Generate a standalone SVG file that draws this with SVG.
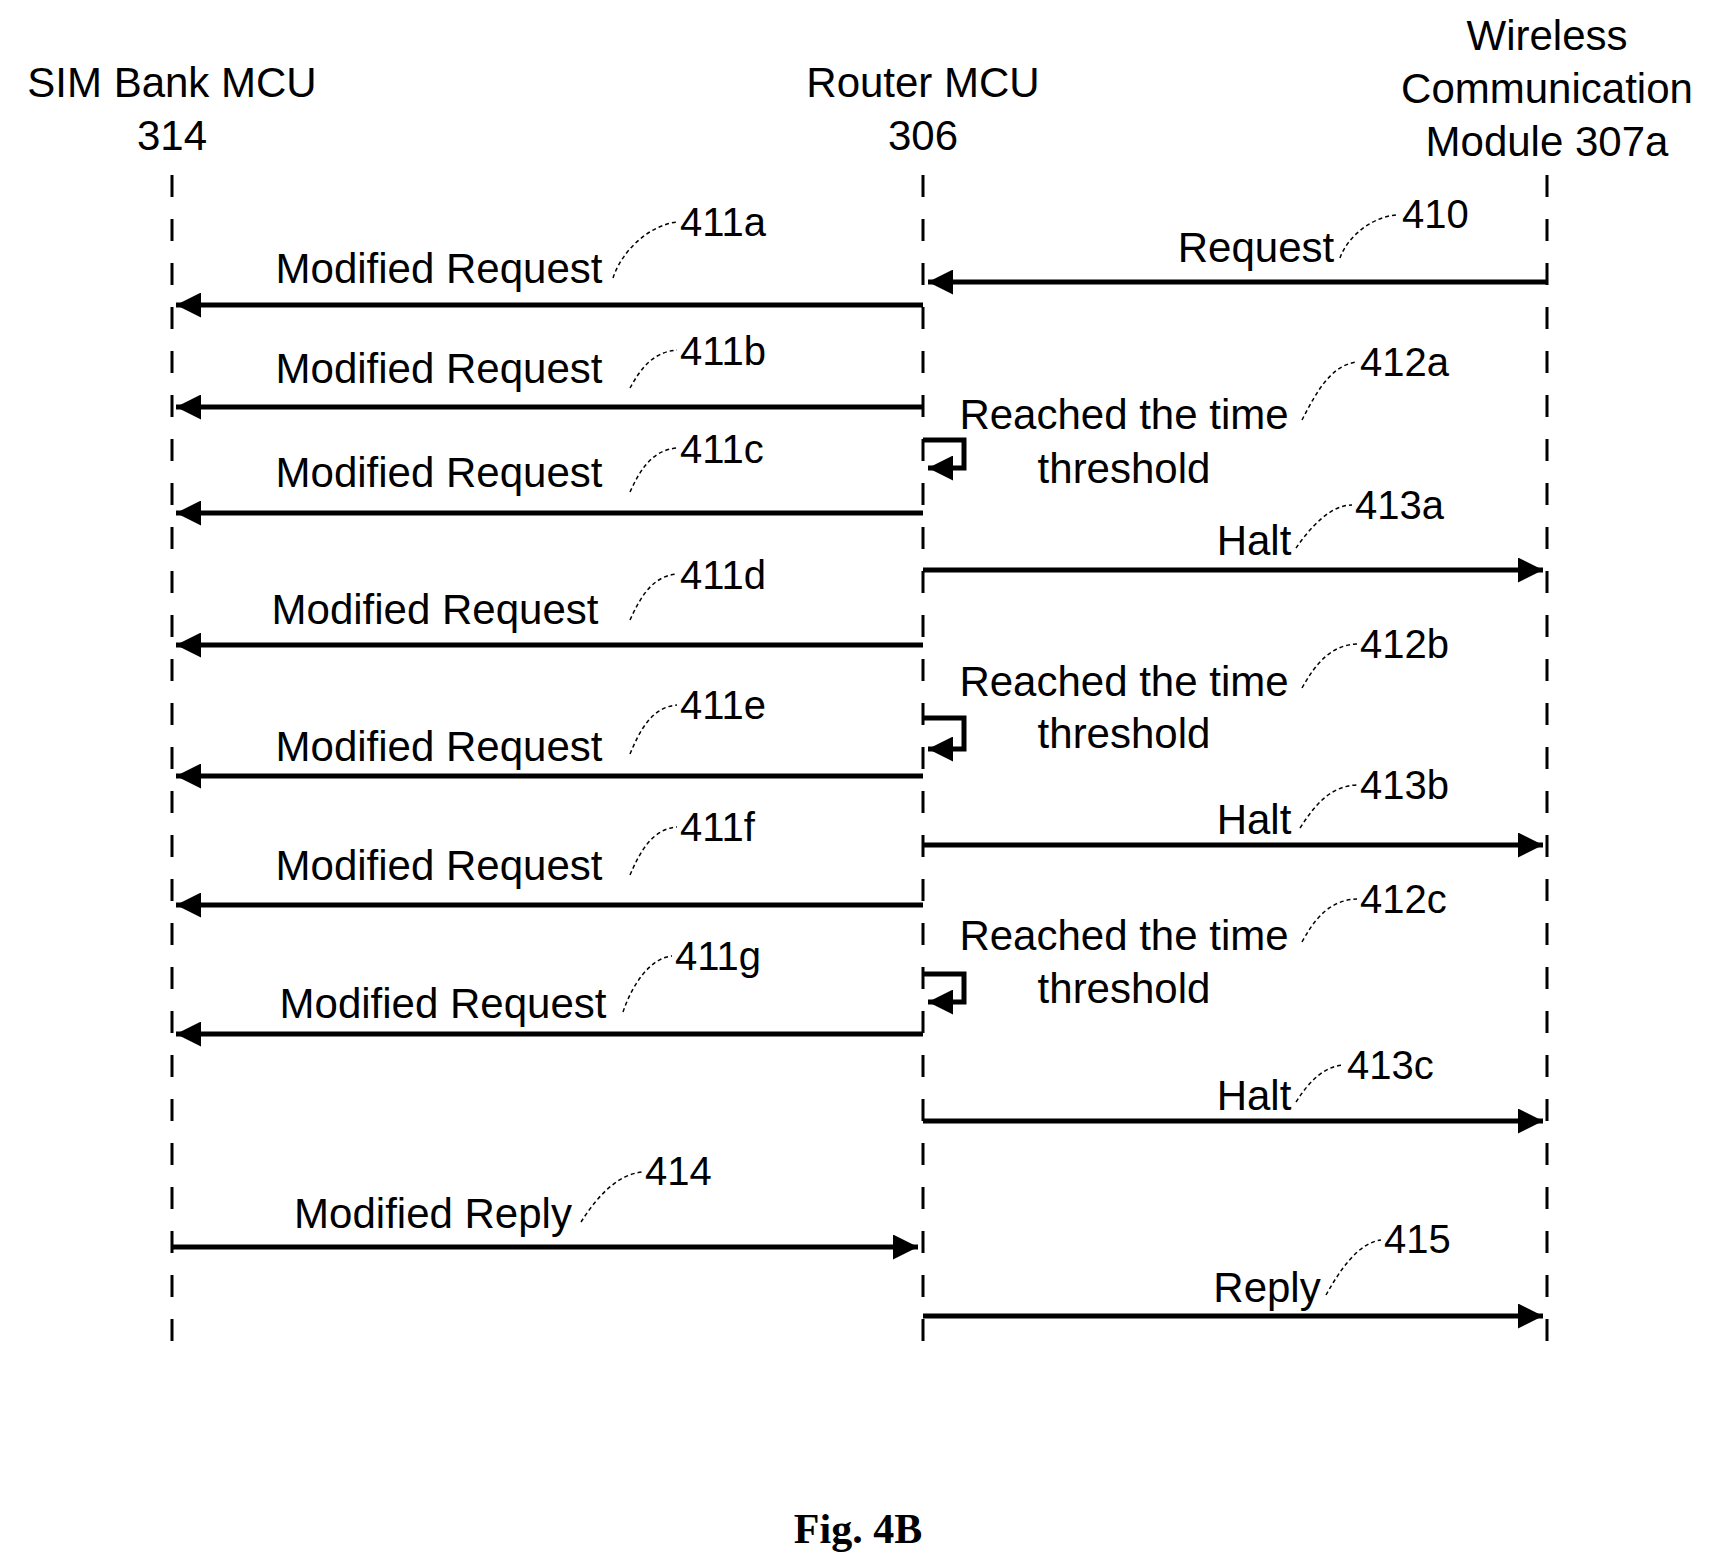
<svg xmlns="http://www.w3.org/2000/svg" width="1711" height="1567" viewBox="0 0 1711 1567">
<style>
text{font-family:"Liberation Sans",Arial,sans-serif;font-size:42px;fill:#000}
.n{font-size:40px}
.c{text-anchor:middle}
.life{stroke:#000;stroke-width:3;stroke-dasharray:22 22;fill:none}
.msg{stroke:#000;stroke-width:5;fill:none}
.lead{stroke:#000;stroke-width:1.5;stroke-dasharray:4 3;fill:none}
</style>
<defs>
<marker id="ah" viewBox="0 0 10 10" refX="10" refY="5" markerWidth="7" markerHeight="5" markerUnits="strokeWidth" orient="auto"><path d="M0,0L10,5L0,10z" fill="#000"/></marker>
</defs>
<g id="sim"><text class="c" x="172" y="97">SIM Bank MCU</text><text class="c" x="172" y="150">314</text><line class="life" x1="172" y1="175" x2="172" y2="1345"/></g>
<g id="router"><text class="c" x="923" y="97">Router MCU</text><text class="c" x="923" y="150">306</text><line class="life" x1="923" y1="175" x2="923" y2="1345"/></g>
<g id="wireless"><text class="c" x="1547" y="50">Wireless</text><text class="c" x="1547" y="103">Communication</text><text class="c" x="1547" y="156">Module 307a</text><line class="life" x1="1547" y1="175" x2="1547" y2="1345"/></g>
<g id="connectors">
<line class="msg" x1="1547" y1="282" x2="928" y2="282" marker-end="url(#ah)"/>
<line class="msg" x1="923" y1="305" x2="176" y2="305" marker-end="url(#ah)"/>
<line class="msg" x1="923" y1="407" x2="176" y2="407" marker-end="url(#ah)"/>
<path class="msg" d="M923,440H964V468H928" marker-end="url(#ah)"/>
<line class="msg" x1="923" y1="513" x2="176" y2="513" marker-end="url(#ah)"/>
<line class="msg" x1="923" y1="570" x2="1543" y2="570" marker-end="url(#ah)"/>
<line class="msg" x1="923" y1="645" x2="176" y2="645" marker-end="url(#ah)"/>
<path class="msg" d="M923,718H964V749H928" marker-end="url(#ah)"/>
<line class="msg" x1="923" y1="776" x2="176" y2="776" marker-end="url(#ah)"/>
<line class="msg" x1="923" y1="845" x2="1543" y2="845" marker-end="url(#ah)"/>
<line class="msg" x1="923" y1="905" x2="176" y2="905" marker-end="url(#ah)"/>
<path class="msg" d="M923,974H964V1002H928" marker-end="url(#ah)"/>
<line class="msg" x1="923" y1="1034" x2="176" y2="1034" marker-end="url(#ah)"/>
<line class="msg" x1="923" y1="1121" x2="1543" y2="1121" marker-end="url(#ah)"/>
<line class="msg" x1="172" y1="1247" x2="918" y2="1247" marker-end="url(#ah)"/>
<line class="msg" x1="923" y1="1316" x2="1543" y2="1316" marker-end="url(#ah)"/>
</g>
<g id="labels">
<text class="c" x="1256" y="262">Request</text><text class="n" x="1402" y="228">410</text><path class="lead" d="M1340,258C1348,235 1375,215 1399,215"/>
<text class="c" x="439" y="283">Modified Request</text><text class="n" x="680" y="236">411a</text><path class="lead" d="M613,278C622,250 650,225 677,222"/>
<text class="c" x="439" y="383">Modified Request</text><text class="n" x="680" y="365">411b</text><path class="lead" d="M630,388C640,370 652,352 677,350"/>
<text class="c" x="1124" y="429">Reached the time</text><text class="c" x="1124" y="483">threshold</text><text class="n" x="1360" y="376">412a</text><path class="lead" d="M1302,420C1315,395 1330,365 1357,362"/>
<text class="c" x="439" y="487">Modified Request</text><text class="n" x="680" y="463">411c</text><path class="lead" d="M630,492C640,470 652,450 677,448"/>
<text class="c" x="1254" y="555">Halt</text><text class="n" x="1355" y="519">413a</text><path class="lead" d="M1296,548C1310,528 1330,505 1352,505"/>
<text class="c" x="435" y="624">Modified Request</text><text class="n" x="680" y="589">411d</text><path class="lead" d="M630,620C640,598 652,576 677,574"/>
<text class="c" x="1124" y="696">Reached the time</text><text class="c" x="1124" y="748">threshold</text><text class="n" x="1360" y="658">412b</text><path class="lead" d="M1302,688C1315,665 1330,645 1357,644"/>
<text class="c" x="439" y="761">Modified Request</text><text class="n" x="680" y="719">411e</text><path class="lead" d="M630,754C640,730 652,707 677,705"/>
<text class="c" x="1254" y="834">Halt</text><text class="n" x="1360" y="799">413b</text><path class="lead" d="M1300,828C1315,805 1330,786 1357,785"/>
<text class="c" x="439" y="880">Modified Request</text><text class="n" x="680" y="841">411f</text><path class="lead" d="M630,875C640,852 652,829 677,827"/>
<text class="c" x="1124" y="950">Reached the time</text><text class="c" x="1124" y="1003">threshold</text><text class="n" x="1360" y="913">412c</text><path class="lead" d="M1302,942C1315,918 1330,900 1357,899"/>
<text class="c" x="443" y="1018">Modified Request</text><text class="n" x="675" y="970">411g</text><path class="lead" d="M623,1012C632,985 650,958 672,956"/>
<text class="c" x="1254" y="1110">Halt</text><text class="n" x="1347" y="1079">413c</text><path class="lead" d="M1296,1102C1310,1080 1325,1066 1344,1065"/>
<text class="c" x="433" y="1228">Modified Reply</text><text class="n" x="645" y="1185">414</text><path class="lead" d="M581,1222C595,1200 615,1175 642,1172"/>
<text class="c" x="1267" y="1302">Reply</text><text class="n" x="1384" y="1253">415</text><path class="lead" d="M1326,1295C1340,1270 1358,1243 1381,1240"/>
</g>
<text x="858" y="1543" style="font-family:'Liberation Serif','Times New Roman',serif;font-weight:bold;font-size:42px" text-anchor="middle">Fig. 4B</text>
</svg>
